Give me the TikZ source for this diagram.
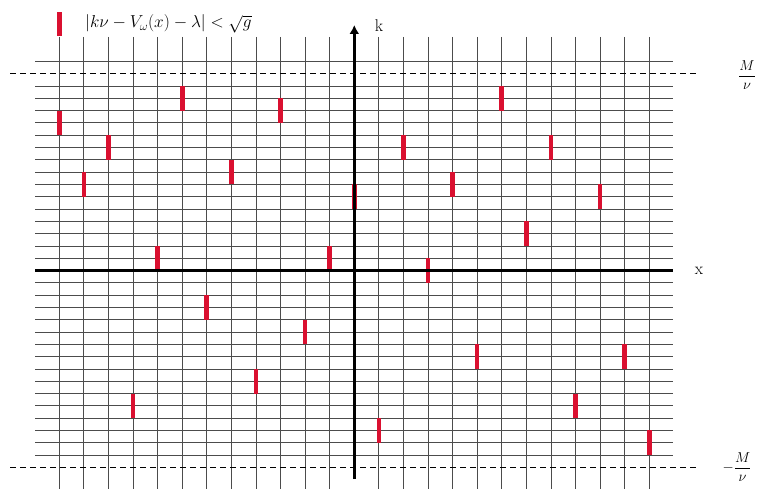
\documentclass[tikz,border=0pt]{standalone}
\usetikzlibrary{arrows.meta}
\definecolor{barred}{RGB}{218,16,48}
\begin{document}
\begin{tikzpicture}[x=1pt,y=-1pt,
  gridline/.style={black!70,line width=0.8pt},
  axisline/.style={black,line width=2.6pt},
  bound/.style={black,line width=1.1pt,dash pattern=on 6pt off 4pt},
  redbar/.style={barred,line width=4.6pt},
  lbl/.style={font=\fontsize{17}{20}\selectfont,inner sep=0pt},
  fraclbl/.style={font=\fontsize{14}{17}\selectfont,inner sep=0pt}]
\useasboundingbox (0,0) rectangle (757,489);
% vertical grid lines
\foreach \i in {0,...,24}{
  \ifnum\i=12\relax\else
    \draw[gridline] ({59.3+24.58*\i},37) -- ({59.3+24.58*\i},489);
  \fi}
% horizontal grid lines
\foreach \k in {-15,...,15}{
  \ifnum\k=0\relax\else
    \draw[gridline] (35,{270.5-12.3*\k}) -- (673,{270.5-12.3*\k});
  \fi}
\draw[gridline] (35,{270.5-12.3*17}) -- (673,{270.5-12.3*17});
% red bars
\foreach \i/\k in {0/12,1/7,2/10,3/-11,4/1,5/14,6/-3,7/8,8/-9,9/13,10/-5,11/1,12/6,
                   13/-13,14/10,15/0,16/7,17/-7,18/14,19/3,20/10,21/-11,22/6,23/-7,24/-14}
  \draw[redbar] ({59.3+24.58*\i},{270.5-12.3*(\k+1)}) -- ({59.3+24.58*\i},{270.5-12.3*(\k-1)});
% axes
\coordinate (xl) at (35,270.5);
\coordinate (xr) at (673,270.5);
\coordinate (yb) at (354.3,479);
\coordinate (yt) at (354.3,25);
\draw[axisline] (xl) -- (xr);
\draw[axisline,-{Latex[length=9pt,width=10pt]}] (yb) -- (yt);
\node[lbl] (klabel) at (379,26) {k};
\node[lbl] (xlabel) at (699,270.5) {x};
% bounds
\coordinate (tl) at (10,{270.5-12.3*16});
\coordinate (tr) at (699,{270.5-12.3*16});
\coordinate (bl) at (10,{270.5+12.3*16});
\coordinate (br) at (699,{270.5+12.3*16});
\draw[bound] (tl) -- (tr);
\draw[bound] (bl) -- (br);
\node[fraclbl] (Mtop) at (747,75) {$\displaystyle\frac{M}{\nu}$};
\node[fraclbl] (Mbot) at (737,467) {$\displaystyle-\frac{M}{\nu}$};
% legend
\coordinate (lgb) at (59.6,36);
\coordinate (lgt) at (59.6,12);
\draw[redbar] (lgb) -- (lgt);
\node[lbl,anchor=west] (legend) at (85,24) {$|k\nu - V_\omega(x) - \lambda| < \sqrt{g}$};
\end{tikzpicture}
\end{document}
